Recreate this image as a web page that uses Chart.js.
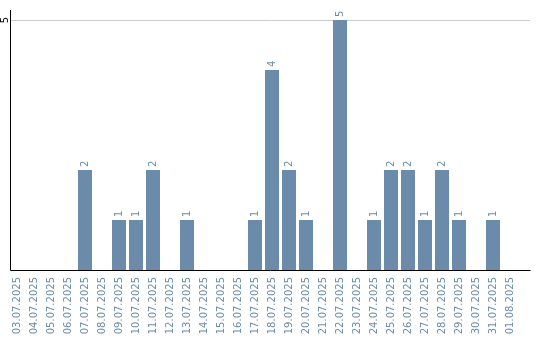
<!DOCTYPE html>
<html>
<head>
<meta charset="utf-8">
<script src="https://cdn.jsdelivr.net/npm/chart.js@4/dist/chart.umd.min.js"></script>
<style>
  html, body { margin: 0; padding: 0; background: #fff; }
  #wrap { width: 540px; height: 340px; position: relative; }
</style>
</head>
<body>
<div id="wrap"><canvas id="chart"></canvas></div>
<script>
const days = ['03.07.2025', '04.07.2025', '05.07.2025', '06.07.2025', '07.07.2025', '08.07.2025',
    '09.07.2025', '10.07.2025', '11.07.2025', '12.07.2025', '13.07.2025', '14.07.2025',
    '15.07.2025', '16.07.2025', '17.07.2025', '18.07.2025', '19.07.2025', '20.07.2025',
    '21.07.2025', '22.07.2025', '23.07.2025', '24.07.2025', '25.07.2025', '26.07.2025',
    '27.07.2025', '28.07.2025', '29.07.2025', '30.07.2025', '31.07.2025', '01.08.2025'];
const counts = [0, 0, 0, 0, 2, 0, 1, 1, 2, 0, 1, 0, 0, 0, 1, 4, 2, 1, 0, 5, 0, 1, 2, 2, 1, 2, 1, 0, 1, 0];
const yTicks = [5];

const barColor = '#6a8caa';
const textColor = '#6a8caa';

// axes, gridline and rotated labels drawn by hand so lines run past the bar area
const axesAndLabels = {
    id: 'axesAndLabels',
    beforeDatasetsDraw(chart) {
        const ctx = chart.ctx;
        const y = chart.scales.y;
        ctx.save();
        ctx.strokeStyle = '#cccccc';
        ctx.lineWidth = 1;
        yTicks.forEach(v => {
            const py = Math.round(y.getPixelForValue(v)) + 0.5;
            ctx.beginPath();
            ctx.moveTo(11, py);
            ctx.lineTo(530, py);
            ctx.stroke();
        });
        ctx.restore();
    },
    afterDatasetsDraw(chart) {
        const ctx = chart.ctx;
        const area = chart.chartArea;
        const meta = chart.getDatasetMeta(0);
        ctx.save();
        ctx.strokeStyle = '#000';
        ctx.lineWidth = 1;
        ctx.beginPath();
        ctx.moveTo(10.5, area.top);
        ctx.lineTo(10.5, Math.round(area.bottom) + 0.5);
        ctx.lineTo(530.5, Math.round(area.bottom) + 0.5);
        ctx.stroke();

        ctx.fillStyle = textColor;
        ctx.font = '10px "DejaVu Sans"';
        ctx.textAlign = 'left';
        ctx.textBaseline = 'middle';
        meta.data.forEach((bar, i) => {
            if (!counts[i]) return;
            ctx.save();
            ctx.translate(bar.x, bar.y - 3);
            ctx.rotate(-Math.PI / 2);
            ctx.fillText(String(counts[i]), 0, 0);
            ctx.restore();
        });
        const y = chart.scales.y;
        ctx.fillStyle = '#000';
        ctx.textAlign = 'center';
        yTicks.forEach(v => {
            ctx.save();
            ctx.translate(5, y.getPixelForValue(v));
            ctx.rotate(-Math.PI / 2);
            ctx.fillText(String(v), 0, 0);
            ctx.restore();
        });
        ctx.restore();
    }
};

new Chart(document.getElementById('chart'), {
    type: 'bar',
    data: {
        labels: days,
        datasets: [{
            data: counts,
            backgroundColor: barColor,
            categoryPercentage: 14 / 17,
            barPercentage: 1
        }]
    },
    options: {
        responsive: true,
        maintainAspectRatio: false,
        animation: false,
        layout: { padding: { left: 8.5, right: 21.5, top: 10, bottom: 0 } },
        plugins: {
            legend: { display: false },
            tooltip: { enabled: false }
        },
        scales: {
            x: {
                afterFit: axis => { axis.height = 70; },
                grid: { display: false, drawTicks: false },
                border: { display: false },
                ticks: {
                    color: textColor,
                    font: { family: 'DejaVu Sans', size: 10 },
                    minRotation: 90,
                    maxRotation: 90,
                    autoSkip: false,
                    padding: 7
                }
            },
            y: {
                min: 0,
                max: 5.2,
                afterBuildTicks: axis => { axis.ticks = yTicks.map(v => ({ value: v })); },
                afterFit: axis => { axis.width = 0; },
                grid: { display: false },
                border: { display: false },
                ticks: { display: false }
            }
        }
    },
    plugins: [axesAndLabels]
});
</script>
</body>
</html>
